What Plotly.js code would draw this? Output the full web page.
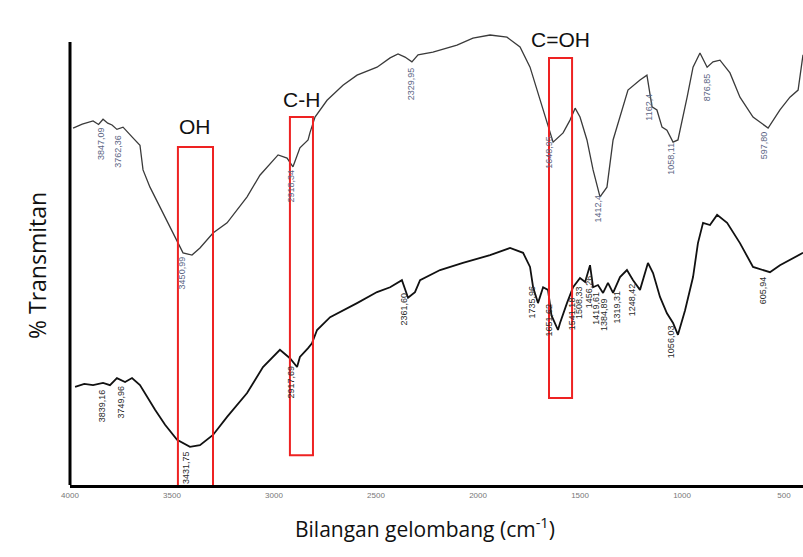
<!DOCTYPE html>
<html><head><meta charset="utf-8">
<script src="https://cdn.plot.ly/plotly-3.0.1.min.js"></script>
<style>html,body{margin:0;padding:0;background:#fff;}#chart{width:803px;height:557px;}</style>
</head><body><div id="chart"></div>
<script>
// Upper spectrum
const wavenumber1 = [3985,3940,3887,3860,3838,3815,3794,3770,3740,3720,3696,3657,3642,3608,3559,3510,3471,3446,3402,3363,3299,3230,3132,3069,2980,2936,2907,2873,2833,2824,2799,2740,2662,2593,2495,2431,2392,2358,2324,2294,2221,2103,2025,1941,1858,1794,1745,1706,1662,1632,1583,1549,1524,1500,1466,1436,1402,1368,1338,1294,1265,1206,1172,1147,1123,1098,1074,1044,1020,975,946,912,877,848,814,765,716,652,578,520,471,431,407];
const transmit1 = [80.5,81.4,82.1,81.3,82.5,81.6,81.2,80.2,80.7,79.6,78.5,76.6,71.0,67.1,62.6,58.0,54.4,52.2,51.7,53.3,56.7,59.0,64.9,69.8,74.4,73.7,71.7,76.0,77.8,79.4,83.0,86.8,90.2,92.5,94.3,96.4,97.3,96.6,95.5,97.1,97.7,99.3,100.9,101.6,101.1,98.9,94.3,88.4,82.3,77.3,79.4,82.3,85.0,83.0,77.8,71.0,64.9,67.1,77.8,84.6,89.1,91.4,92.5,85.3,84.6,80.7,80.0,77.3,77.8,87.5,94.3,97.5,94.3,95.5,95.9,93.0,87.5,83.0,80.5,84.6,87.5,89.1,97.1];
// Lower spectrum
const wavenumber2 = [3975,3930,3887,3838,3804,3770,3730,3696,3657,3623,3583,3534,3475,3412,3363,3299,3230,3132,3054,2971,2922,2887,2873,2833,2814,2789,2725,2593,2495,2431,2373,2343,2309,2284,2186,2074,1941,1843,1779,1745,1730,1706,1681,1657,1640,1608,1598,1564,1534,1500,1475,1451,1436,1412,1387,1363,1338,1304,1270,1240,1206,1167,1142,1108,1074,1044,1020,985,946,922,897,863,828,779,716,652,569,520,456,407];
const transmit2 = [21.8,22.5,22.2,22.7,22.2,23.8,22.9,23.8,22.2,19.5,16.6,13.2,9.8,8.2,8.6,10.9,15.0,20.4,26.3,30.2,28.3,26.3,28.6,30.6,31.7,34.7,37.6,40.8,43.3,44.4,46.0,42.0,43.3,46.0,48.3,49.9,51.7,53.3,52.2,49.0,44.4,40.8,44.4,43.8,38.0,34.7,36.3,40.8,44.4,46.5,45.6,49.4,44.4,44.9,43.1,45.4,43.1,46.7,48.3,46.0,43.8,49.9,47.6,42.2,38.5,36.3,33.6,39.2,46.7,54.4,59.0,58.5,60.8,59.0,54.4,49.0,47.8,49.4,51.0,52.2];
// Peak labels
const peakWn1 = [3847.09,3762.36,3450.99,2918.34,2329.95,1648.95,1412.4,1162.4,1058.11,876.85,597.8];
const peakLabel1 = ["3847,09","3762,36","3450,99","2918,34","2329,95","1648,95","1412,4","1162,4","1058,11","876,85","597,80"];
const peakWn2 = [3839.16,3749.96,3431.75,2917.69,2361.6,1735.96,1651.62,1541.18,1508.33,1456.26,1419.61,1384.89,1319.31,1248.42,1056.03,605.94];
const peakLabel2 = ["3839,16","3749,96","3431,75","2917,69","2361,60","1735,96","1651,62","1541,18","1508,33","1456,26","1419,61","1384,89","1319,31","1248,42","1056,03","605,94"];
const xTicks = [4000,3500,3000,2500,2000,1500,1000,500];
const groupLabels = ["OH","C-H","C=OH"];

function interp(ws, ts, w){
  for(let i=0;i<ws.length-1;i++){
    if(w<=ws[i] && w>=ws[i+1]){
      const f=(ws[i]-w)/(ws[i]-ws[i+1]);
      return ts[i]+f*(ts[i+1]-ts[i]);
    }
  }
  return ts[ts.length-1];
}

const traces = [
  {x: wavenumber1, y: transmit1, mode:'lines', line:{color:'#3a3a3a', width:1.3}, hoverinfo:'x+y'},
  {x: wavenumber2, y: transmit2, mode:'lines', line:{color:'#111', width:1.8}, hoverinfo:'x+y'}
];

const annotations = [];
peakWn1.forEach((w,i)=>{
  annotations.push({x:w, y:interp(wavenumber1,transmit1,w), xref:'x', yref:'y', text:peakLabel1[i],
    showarrow:false, textangle:-90, yanchor:'top', xanchor:'center', yshift:-4,
    font:{family:'Liberation Sans, Arial, sans-serif', size:9, color:'#5b6584'}});
});
peakWn2.forEach((w,i)=>{
  annotations.push({x:w, y:interp(wavenumber2,transmit2,w), xref:'x', yref:'y', text:peakLabel2[i],
    showarrow:false, textangle:-90, yanchor:'top', xanchor:'center', yshift:-4,
    font:{family:'Liberation Sans, Arial, sans-serif', size:9, color:'#2a2a2a'}});
});
// group labels
const groupPos = [[3385,80.8],[2865,87.0],[1595,100.5]];
groupLabels.forEach((g,i)=>{
  annotations.push({x:groupPos[i][0], y:groupPos[i][1], xref:'x', yref:'y', text:g, showarrow:false,
    font:{family:'Liberation Sans, Arial, sans-serif', size:21, color:'#111'}});
});
annotations.push({x:(19-70)/733, y:(485-266)/465, xref:'paper', yref:'paper', text:'% Transmitan', textangle:-90,
  showarrow:false, font:{family:'Open Sans, sans-serif', size:23, color:'#111'}});
annotations.push({x:(425-70)/733, y:(485-545)/465, xref:'paper', yref:'paper', text:'Bilangan gelombang (cm<sup>-1</sup>)',
  showarrow:false, font:{family:'Open Sans, sans-serif', size:21, color:'#111'}});

const red = {color:'#ee2222', width:2};
const shapes = [
  {type:'rect', xref:'x', yref:'y', x0:3471, x1:3299, y0:-0.9, y1:76.2, line:red},
  {type:'rect', xref:'x', yref:'y', x0:2922, x1:2809, y0:6.3, y1:83.0, line:red},
  {type:'rect', xref:'x', yref:'y', x0:1652, x1:1539, y0:19.3, y1:96.4, line:red},
  {type:'line', xref:'paper', yref:'y', x0:0, x1:0, y0:-0.45, y1:100, line:{color:'#000', width:3}}
];

const layout = {
  width:803, height:557,
  margin:{l:70, r:0, t:20, b:72},
  paper_bgcolor:'#fff', plot_bgcolor:'#fff',
  showlegend:false,
  xaxis:{range:[4000,407], tickvals:xTicks, ticktext:xTicks.map(String), showgrid:false, zeroline:false,
    showline:true, linecolor:'#000', linewidth:3, ticks:'', tickfont:{family:'Liberation Sans, Arial', size:8, color:'#777'}},
  yaxis:{range:[-0.45,105], showgrid:false, zeroline:false, showline:false, showticklabels:false, ticks:''},
  shapes: shapes,
  annotations: annotations
};
Plotly.newPlot('chart', traces, layout, {displayModeBar:false, staticPlot:true});
</script></body></html>
